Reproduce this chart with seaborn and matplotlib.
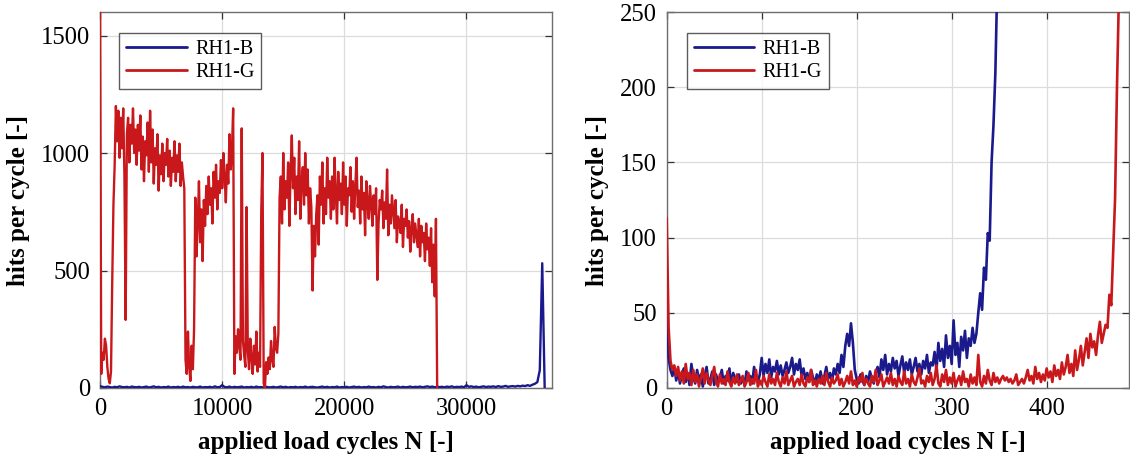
import numpy as np
import pandas as pd
import matplotlib
matplotlib.use("Agg")
import matplotlib.pyplot as plt
import seaborn as sns

# ---------------- data ----------------
series_names = ["RH1-B", "RH1-G"]

# left panel: whole test, sampled every 100 / 200 load cycles
left_red_step = 100
left_red = [
    1700,
    60, 150, 120, 210, 180, 90, 40, 20, 70,
    450, 780, 950,
    1200, 1050, 1180, 980, 1150, 1020, 1190, 900,
    290,
    1080, 1150, 960, 1120, 1040, 1190, 1000, 1100, 950,
    1120, 1010, 1160, 930, 1070, 880, 1050, 990, 1130, 920,
    1180, 960, 1100, 870, 1020, 950, 1080, 840, 990, 910,
    1040, 880, 1000, 950, 1060, 900, 1010, 860, 980, 920,
    1050, 880, 990, 920, 1040, 860, 960, 900, 850,
    120, 60, 240, 90, 30, 180, 80, 250,
    810, 560,
    700, 880, 620, 760, 540, 800, 690, 860, 740, 900,
    780, 850, 700, 920, 810, 950, 760, 880, 830, 970,
    850, 1000, 900, 790, 950, 870, 1080, 930, 1010, 1190,
    60, 220, 150, 250, 180, 120, 1105, 200, 140, 90,
    770, 160, 80, 210, 130, 60, 180, 100, 240, 70,
    150, 90, 750, 1000, 20, 0, 110, 60, 130, 80,
    200, 120, 90, 260, 170, 150, 230,
    810,
    900, 700, 1000, 760, 880, 810, 960, 690, 920, 1075,
    850, 980, 740, 900, 800, 1050, 720, 880, 940, 780,
    1000, 820, 930, 700, 850, 770, 415, 690, 560, 740,
    820, 610, 900, 780, 960, 700, 850, 740, 980, 810,
    880, 720,
    900, 760, 980, 830, 700, 920, 800, 870, 740, 960,
    780, 900, 690, 850, 820, 940, 750, 880, 720, 860,
    980, 770, 840, 700, 900, 760, 830, 650, 880, 790,
    720, 860, 780, 690, 820, 740, 850, 460, 700, 800,
    760, 840, 680, 790, 720, 930, 650, 780, 700, 820,
    750, 680, 800, 620, 730, 700, 660, 780, 600, 720,
    690, 760, 640, 710, 580, 680, 740, 620, 700, 650,
    600, 720, 560, 690, 620, 660, 540, 700, 590, 640,
    520, 680, 450, 610, 390, 720, 0,
]

left_blue_step = 200
left_blue = [
    8, 5, 3, 6, 4, 2, 5, 3, 7, 4,
    3, 5, 2, 6, 4, 3, 5, 2, 4, 6,
    2, 4, 7, 3, 5, 2, 4, 3, 6, 2,
    4, 3, 5, 2, 6, 3, 4, 2, 5, 3,
    3, 6, 2, 4, 3, 5, 2, 7, 3, 4,
    12, 4, 3, 6, 2, 5, 3, 4, 6, 2,
    4, 3, 5, 2, 6, 3, 4, 2, 5, 3,
    3, 5, 2, 4, 6, 3, 5, 2, 4, 3,
    5, 2, 4, 3, 6, 2, 4, 5, 3, 2,
    4, 6, 3, 5, 2, 4, 3, 6, 2, 4,
    3, 5, 2, 4, 6, 3, 5, 2, 4, 3,
    6, 3, 4, 2, 5, 3, 7, 4, 2, 5,
    3, 4, 6, 2, 5, 3, 4, 6, 3, 5,
    4, 6, 3, 5, 7, 4, 6, 3, 5, 4,
    5, 3, 6, 4, 7, 3, 5, 4, 6, 3,
    12, 5, 7, 4, 6, 3, 5, 7, 4, 6,
    5, 7, 4, 8, 5, 6, 9, 5, 7, 8,
    6, 9, 7, 10, 8, 12, 9, 14, 18, 25,
    76, 531, 0,
]

# right panel: first ~490 load cycles, every 2nd cycle
right_step = 2
right_red = [
    113, 40, 18, 12, 15, 8, 14, 5, 11, 3,
    16, 6, 10, 2, 12, 4, 9, 1, 7, 13,
    3, 10, 5, 2, 8, 14, 4, 1, 9, 3,
    6, 2, 11, 4, 1, 7, 3, 9, 2, 5,
    8, 1, 4, 10, 2, 6, 3, 12, 1, 5,
    2, 8, 4, 1, 9, 3, 6, 2, 10, 4,
    1, 7, 3, 11, 2, 5, 8, 1, 4, 6,
    2, 9, 3, 1, 7, 4, 12, 2, 5, 1,
    6, 3, 8, 2, 10, 4, 1, 7, 3, 5,
    9, 2, 6, 1, 4, 8, 3, 11, 2, 5,
    1, 7, 4, 10, 2, 6, 3, 1, 8, 4,
    12, 2, 5, 9, 1, 4, 7, 3, 10, 2,
    6, 1, 8, 4, 2, 11, 3, 6, 1, 9,
    4, 2, 7, 13, 3, 5, 1, 8, 4, 10,
    2, 6, 15, 3, 1, 9, 4, 12, 2, 7,
    3, 10, 1, 5, 8, 2, 11, 4, 6, 1,
    9, 3, 7, 2, 22, 4, 1, 8, 3, 12,
    5, 2, 10, 4, 7, 3, 6, 8, 5, 7,
    4, 6, 3, 5, 9, 2, 4, 6, 3, 7,
    12, 5, 8, 3, 14, 6, 10, 4, 9, 5,
    13, 7, 11, 4, 15, 8, 12, 6, 17, 9,
    14, 22, 10, 16, 8, 25, 12, 19, 28, 15,
    24, 33, 20, 36, 27, 31, 22, 35, 44, 30,
    36, 42, 40, 62, 55, 90, 126, 200, 260, 320,
]
right_blue = [
    64, 20, 12, 8, 14, 5, 11, 3, 9, 13,
    4, 10, 2, 16, 7, 3, 12, 5, 9, 1,
    8, 14, 3, 6, 11, 2, 9, 4, 7, 12,
    3, 8, 5, 13, 2, 10, 6, 4, 9, 3,
    7, 2, 11, 5, 8, 3, 14, 6, 4, 9,
    20, 8, 16, 10, 19, 7, 14, 11, 18, 9,
    15, 8, 12, 17, 10, 14, 20, 9, 16, 12,
    19, 8, 13, 6, 10, 4, 12, 7, 3, 9,
    5, 11, 3, 8, 14, 6, 10, 4, 13, 9,
    16, 10, 22, 14, 28, 36, 28, 43, 30, 12,
    6, 3, 9, 5, 2, 8, 4, 11, 6, 3,
    10, 14, 7, 19, 12, 22, 9, 16, 11, 20,
    13, 18, 8, 15, 21, 10, 17, 12, 19, 9,
    14, 20, 11, 16, 9, 18, 13, 22, 10, 17,
    15, 24, 12, 30, 18, 26, 14, 35, 20, 28,
    16, 45, 22, 30, 14, 34, 25, 38, 20, 33,
    28, 40, 30, 36, 50, 63, 52, 80, 72, 103,
    98, 150, 175, 210, 270,
]

left_xticks = [0, 10000, 20000, 30000]
left_yticks = [0, 500, 1000, 1500]
right_xticks = [0, 100, 200, 300, 400]
right_yticks = [0, 50, 100, 150, 200, 250]

# ---------------- style ----------------
sns.set_theme(style="white")
plt.rcParams["font.family"] = ["Liberation Serif", "DejaVu Serif"]
plt.rcParams["text.color"] = "black"
plt.rcParams["axes.labelcolor"] = "black"
plt.rcParams["xtick.color"] = "black"
plt.rcParams["ytick.color"] = "black"

BLUE = "#1a1a8c"
RED = "#c9181b"

fig = plt.figure(figsize=(11.3, 4.63), dpi=100)
axL = fig.add_axes([0.0885, 0.162, 0.400, 0.812])
axR = fig.add_axes([0.5900, 0.162, 0.4094, 0.812])


def frame(df_b, df_r, ax, lw):
    sns.lineplot(data=df_b, x="N", y="hits", color=BLUE, lw=lw, ax=ax,
                 label=series_names[0], estimator=None, sort=False, zorder=3)
    sns.lineplot(data=df_r, x="N", y="hits", color=RED, lw=lw, ax=ax,
                 label=series_names[1], estimator=None, sort=False, zorder=3)


dLb = pd.DataFrame({"N": np.arange(len(left_blue)) * left_blue_step, "hits": left_blue})
dLr = pd.DataFrame({"N": np.arange(len(left_red)) * left_red_step, "hits": left_red})
dRb = pd.DataFrame({"N": np.arange(len(right_blue)) * right_step, "hits": right_blue})
dRr = pd.DataFrame({"N": np.arange(len(right_red)) * right_step, "hits": right_red})

frame(dLb, dLr, axL, 1.7)
frame(dRb, dRr, axR, 1.9)

for ax, xl, yl, xt, yt in [
    (axL, (0, 37000), (0, 1600), left_xticks, left_yticks),
    (axR, (0, 487), (0, 250), right_xticks, right_yticks),
]:
    ax.set_xlim(*xl)
    ax.set_ylim(*yl)
    ax.set_xticks(xt)
    ax.set_yticks(yt)
    ax.set_xticklabels([str(v) for v in xt])
    ax.set_yticklabels([str(v) for v in yt])
    ax.grid(True, color="#dcdcdc", lw=0.9)
    ax.set_axisbelow(True)
    for s in ax.spines.values():
        s.set_color("#6e6e6e")
        s.set_linewidth(1.0)
        s.set_visible(True)
        s.set_zorder(2.5)
    ax.tick_params(direction="in", length=5, width=0.9, color="#333333",
                   labelsize=17.7, top=True, right=True, bottom=True, left=True,
                   labelcolor="black", pad=7)
    ax.set_xlabel("applied load cycles N [-]", fontsize=18, fontweight="bold",
                  labelpad=8, color="black")
    ax.set_ylabel("hits per cycle [-]", fontsize=18, fontweight="bold",
                  labelpad=8, color="black")
    leg = ax.legend(loc="upper left", bbox_to_anchor=(0.043, 0.945), fontsize=14.5,
                    frameon=True, fancybox=False, handlelength=3.0,
                    borderpad=0.35, labelspacing=0.2, handletextpad=0.4,
                    borderaxespad=0.0)
    leg.get_frame().set_edgecolor("#333333")
    leg.get_frame().set_linewidth(1.0)
    for t in leg.get_texts():
        t.set_color("black")
    for h in leg.get_lines():
        h.set_linewidth(2.0)

fig.savefig("out.png", dpi=100)
